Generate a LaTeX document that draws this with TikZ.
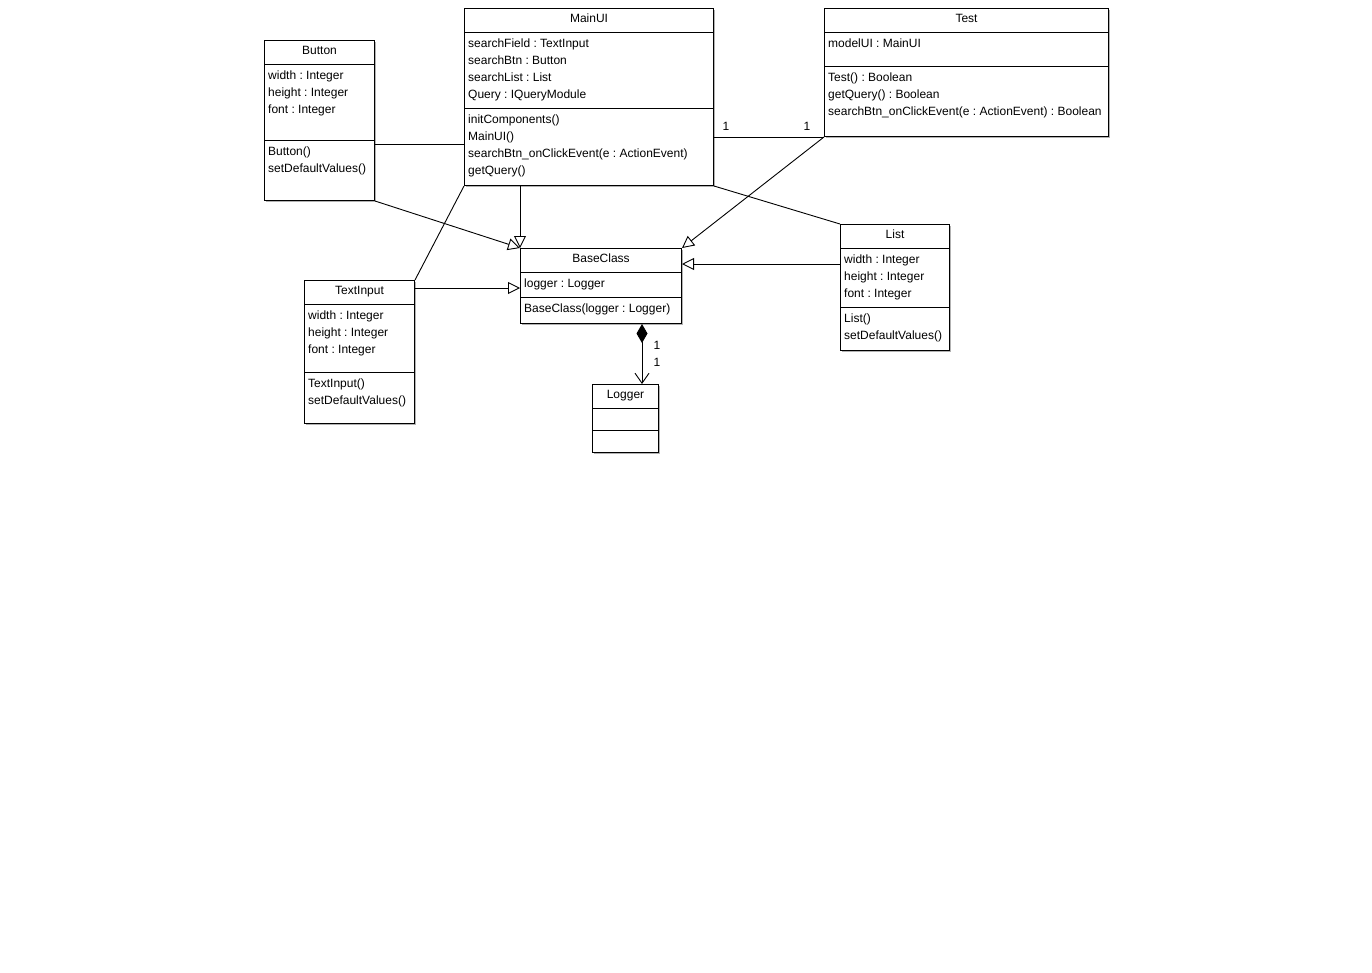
\documentclass[tikz,border=0pt]{standalone}
\usepackage{fontspec}
\setmainfont{Liberation Sans}
\usetikzlibrary{arrows.meta,calc,shadows}
\frenchspacing
\newcommand\umlfont{\fontsize{12pt}{14pt}\selectfont\frenchspacing}
\tikzset{
  classbox/.style={draw, fill=white, line width=1pt, inner sep=0pt, anchor=north west,
    drop shadow={shadow xshift=1.5pt, shadow yshift=-1.5pt, fill=black!30, opacity=1}},
  sepline/.style={line width=1pt},
  title/.style={anchor=base, inner sep=0pt, font=\umlfont},
  member/.style={anchor=base west, inner sep=0pt, font=\umlfont},
  mult/.style={inner sep=0pt, font=\umlfont},
  assoc/.style={line width=0.9pt},
  gen/.style={line width=0.9pt, -{Triangle[open, length=12pt, width=12pt]}},
  comp/.style={line width=0.9pt, {Diamond[length=19pt, width=11pt]}-{Straight Barb[length=10pt, width=14pt]}}
}
\begin{document}
\begin{tikzpicture}[x=1pt, y=-1pt]
\useasboundingbox (0,0) rectangle (1372,972);

% ---------- Button ----------
\node[classbox, minimum width=110pt, minimum height=160pt] (button) at (264,40) {};
\draw[sepline] ($(button.north west)+(0,24)$) -- ($(button.north east)+(0,24)$);
\draw[sepline] ($(button.north west)+(0,100)$) -- ($(button.north east)+(0,100)$);
\node[title] (button-name) at ($(button.north)+(0,14)$) {Button};
\node[member] (button-a1) at ($(button.north west)+(4,39.5)$) {width : Integer};
\node[member] (button-a2) at ($(button.north west)+(4,56.5)$) {height : Integer};
\node[member] (button-a3) at ($(button.north west)+(4,73.5)$) {font : Integer};
\node[member] (button-m1) at ($(button.north west)+(4,115.5)$) {Button()};
\node[member] (button-m2) at ($(button.north west)+(4,132.5)$) {setDefaultValues()};

% ---------- MainUI ----------
\node[classbox, minimum width=249pt, minimum height=177pt] (mainui) at (464,8) {};
\draw[sepline] ($(mainui.north west)+(0,24)$) -- ($(mainui.north east)+(0,24)$);
\draw[sepline] ($(mainui.north west)+(0,100)$) -- ($(mainui.north east)+(0,100)$);
\node[title] (mainui-name) at ($(mainui.north)+(0,14)$) {MainUI};
\node[member] (mainui-a1) at ($(mainui.north west)+(4,39.5)$) {searchField : TextInput};
\node[member] (mainui-a2) at ($(mainui.north west)+(4,56.5)$) {searchBtn : Button};
\node[member] (mainui-a3) at ($(mainui.north west)+(4,73.5)$) {searchList : List};
\node[member] (mainui-a4) at ($(mainui.north west)+(4,90.5)$) {Query : IQueryModule};
\node[member] (mainui-m1) at ($(mainui.north west)+(4,115.5)$) {initComponents()};
\node[member] (mainui-m2) at ($(mainui.north west)+(4,132.5)$) {MainUI()};
\node[member] (mainui-m3) at ($(mainui.north west)+(4,149.5)$) {searchBtn\_onClickEvent(e : ActionEvent)};
\node[member] (mainui-m4) at ($(mainui.north west)+(4,166.5)$) {getQuery()};

% ---------- Test ----------
\node[classbox, minimum width=284pt, minimum height=128pt] (test) at (824,8) {};
\draw[sepline] ($(test.north west)+(0,24)$) -- ($(test.north east)+(0,24)$);
\draw[sepline] ($(test.north west)+(0,58)$) -- ($(test.north east)+(0,58)$);
\node[title] (test-name) at ($(test.north)+(0,14)$) {Test};
\node[member] (test-a1) at ($(test.north west)+(4,39.5)$) {modelUI : MainUI};
\node[member] (test-m1) at ($(test.north west)+(4,73.5)$) {Test() : Boolean};
\node[member] (test-m2) at ($(test.north west)+(4,90.5)$) {getQuery() : Boolean};
\node[member] (test-m3) at ($(test.north west)+(4,107.5)$) {searchBtn\_onClickEvent(e : ActionEvent) : Boolean};

% ---------- BaseClass ----------
\node[classbox, minimum width=161pt, minimum height=75pt] (base) at (520,248) {};
\draw[sepline] ($(base.north west)+(0,24)$) -- ($(base.north east)+(0,24)$);
\draw[sepline] ($(base.north west)+(0,49)$) -- ($(base.north east)+(0,49)$);
\node[title] (base-name) at ($(base.north)+(0,14)$) {BaseClass};
\node[member] (base-a1) at ($(base.north west)+(4,39.5)$) {logger : Logger};
\node[member] (base-m1) at ($(base.north west)+(4,64.5)$) {BaseClass(logger : Logger)};

% ---------- TextInput ----------
\node[classbox, minimum width=110pt, minimum height=143pt] (textinput) at (304,280) {};
\draw[sepline] ($(textinput.north west)+(0,24)$) -- ($(textinput.north east)+(0,24)$);
\draw[sepline] ($(textinput.north west)+(0,92)$) -- ($(textinput.north east)+(0,92)$);
\node[title] (textinput-name) at ($(textinput.north)+(0,14)$) {TextInput};
\node[member] (textinput-a1) at ($(textinput.north west)+(4,39.5)$) {width : Integer};
\node[member] (textinput-a2) at ($(textinput.north west)+(4,56.5)$) {height : Integer};
\node[member] (textinput-a3) at ($(textinput.north west)+(4,73.5)$) {font : Integer};
\node[member] (textinput-m1) at ($(textinput.north west)+(4,107.5)$) {TextInput()};
\node[member] (textinput-m2) at ($(textinput.north west)+(4,124.5)$) {setDefaultValues()};

% ---------- List ----------
\node[classbox, minimum width=109pt, minimum height=126pt] (list) at (840,224) {};
\draw[sepline] ($(list.north west)+(0,24)$) -- ($(list.north east)+(0,24)$);
\draw[sepline] ($(list.north west)+(0,83)$) -- ($(list.north east)+(0,83)$);
\node[title] (list-name) at ($(list.north)+(0,14)$) {List};
\node[member] (list-a1) at ($(list.north west)+(4,39.5)$) {width : Integer};
\node[member] (list-a2) at ($(list.north west)+(4,56.5)$) {height : Integer};
\node[member] (list-a3) at ($(list.north west)+(4,73.5)$) {font : Integer};
\node[member] (list-m1) at ($(list.north west)+(4,98.5)$) {List()};
\node[member] (list-m2) at ($(list.north west)+(4,115.5)$) {setDefaultValues()};

% ---------- Logger ----------
\node[classbox, minimum width=66pt, minimum height=68pt] (logger) at (592,384) {};
\draw[sepline] ($(logger.north west)+(0,24)$) -- ($(logger.north east)+(0,24)$);
\draw[sepline] ($(logger.north west)+(0,46)$) -- ($(logger.north east)+(0,46)$);
\node[title] (logger-name) at ($(logger.north)+(0,14)$) {Logger};

% ---------- associations ----------
\coordinate (btn-end) at ($(button.north east)+(0,104)$);
\draw[assoc] (btn-end) -- (mainui.west |- btn-end);
\draw[assoc] (mainui.east |- test.south west) -- (test.south west);
\node[mult] (mult-ui) at (726,126) {1};
\node[mult] (mult-test) at (807,126) {1};
\draw[assoc] (mainui.south west) -- (textinput.north east);
\draw[assoc] (mainui.south east) -- (list.north west);

% ---------- generalizations ----------
\draw[gen] (button.south east) -- (base.north west);
\draw[gen] (mainui.south west -| base.north west) -- (base.north west);
\coordinate (ti-end) at ($(textinput.north east)+(0,8)$);
\draw[gen] (ti-end) -- (base.west |- ti-end);
\draw[gen] (test.south west) -- (base.north east);
\coordinate (list-end) at ($(list.north west)+(0,40)$);
\draw[gen] (list-end) -- (base.east |- list-end);

% ---------- composition ----------
\coordinate (comp-start) at ($(base.south west)+(122,0)$);
\draw[comp] (comp-start) -- (comp-start |- logger.north);
\node[mult] (mult-c1) at (657,345) {1};
\node[mult] (mult-c2) at (657,362) {1};
\end{tikzpicture}
\end{document}
